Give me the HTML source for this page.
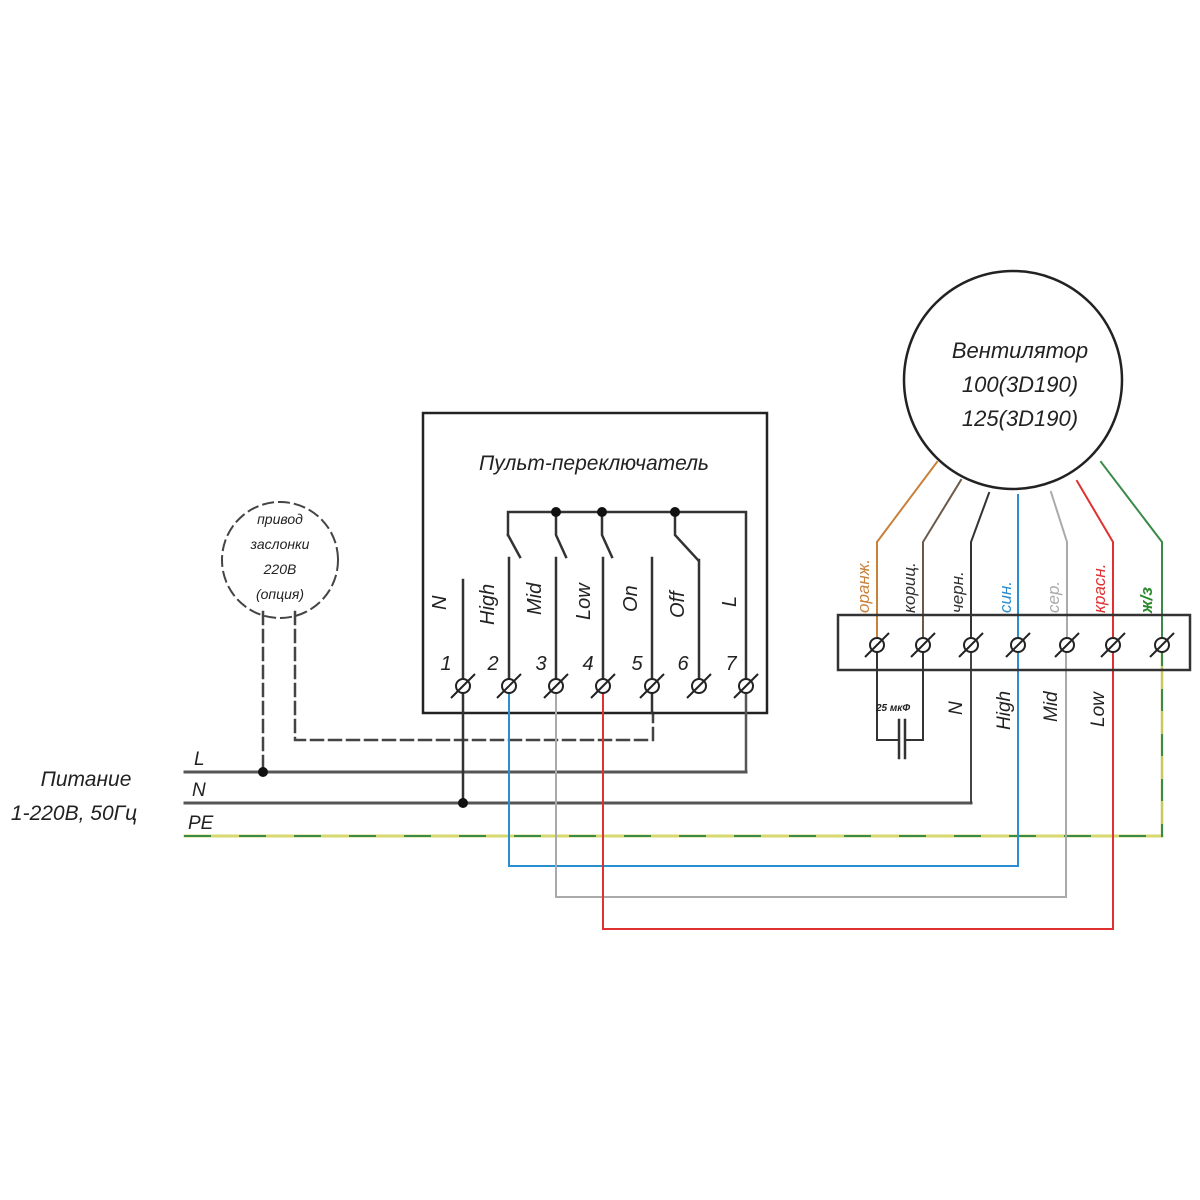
<!DOCTYPE html>
<html><head><meta charset="utf-8"><style>
html,body{margin:0;padding:0;background:#fff}
svg{display:block}
text{font-family:"Liberation Sans","DejaVu Sans",sans-serif;font-style:italic}
</style></head><body>
<svg width="1200" height="1200" viewBox="0 0 1200 1200" xmlns="http://www.w3.org/2000/svg">
<rect width="1200" height="1200" fill="#fff"/>
<g fill="none" stroke-linecap="square">
<line x1="185" y1="772" x2="746" y2="772" stroke="#555" stroke-width="3"/>
<line x1="185" y1="803" x2="971" y2="803" stroke="#555" stroke-width="3"/>
<line x1="185" y1="836" x2="1162" y2="836" stroke="#d8d870" stroke-width="3"/>
<line x1="185" y1="836" x2="1162" y2="836" stroke="#3a8a4a" stroke-width="2" stroke-dasharray="25 30"/>
<circle cx="280" cy="560" r="58" stroke="#444" stroke-width="2" stroke-dasharray="10 6"/>
<polyline points="263,612 263,772" stroke="#444" stroke-width="2.5" stroke-dasharray="12 6"/>
<polyline points="295,612 295,740 653,740 653,713" stroke="#444" stroke-width="2.5" stroke-dasharray="12 6"/>
<rect x="423" y="413" width="344" height="300" stroke="#222" stroke-width="2.5"/>
<polyline points="508,535 508,512 746,512 746,686" stroke="#333" stroke-width="2.5"/>
<line x1="508" y1="535" x2="520" y2="557" stroke="#333" stroke-width="2.5"/>
<polyline points="556,512 556,535 566,557" stroke="#333" stroke-width="2.5"/>
<polyline points="602,512 602,535 612,557" stroke="#333" stroke-width="2.5"/>
<polyline points="675,512 675,535 698,560" stroke="#333" stroke-width="2.5"/>
<line x1="463" y1="580" x2="463" y2="803" stroke="#333" stroke-width="2.5"/>
<line x1="509" y1="558" x2="509" y2="686" stroke="#333" stroke-width="2.5"/>
<line x1="556" y1="558" x2="556" y2="686" stroke="#333" stroke-width="2.5"/>
<line x1="603" y1="558" x2="603" y2="686" stroke="#333" stroke-width="2.5"/>
<line x1="652" y1="558" x2="652" y2="713" stroke="#333" stroke-width="2.5"/>
<line x1="699" y1="560" x2="699" y2="686" stroke="#333" stroke-width="2.5"/>
<line x1="746" y1="686" x2="746" y2="772" stroke="#555" stroke-width="2.5"/>
<polyline points="509,686 509,866 1018,866 1018,645" stroke="#2a8fd0" stroke-width="2"/>
<polyline points="556,686 556,897 1066,897 1066,645" stroke="#aaa" stroke-width="2"/>
<polyline points="603,686 603,929 1113,929 1113,645" stroke="#e03030" stroke-width="2"/>
<line x1="971" y1="645" x2="971" y2="803" stroke="#444" stroke-width="2"/>
<line x1="1162" y1="645" x2="1162" y2="836" stroke="#c8c860" stroke-width="2.5"/>
<line x1="1162" y1="645" x2="1162" y2="836" stroke="#3a8a4a" stroke-width="2" stroke-dasharray="20 25"/>
<circle cx="1013" cy="380" r="109" stroke="#222" stroke-width="2.5"/>
<polyline points="937,462 877,542 877,645" stroke="#c8803a" stroke-width="2"/>
<polyline points="961,480 923,542 923,645" stroke="#6b5a4a" stroke-width="2"/>
<polyline points="989,493 971,542 971,645" stroke="#333" stroke-width="2"/>
<polyline points="1018,495 1018,645" stroke="#2a8fd0" stroke-width="2"/>
<polyline points="1051,492 1067,542 1067,645" stroke="#aaa" stroke-width="2"/>
<polyline points="1077,481 1113,542 1113,645" stroke="#e03030" stroke-width="2"/>
<polyline points="1101,462 1162,542 1162,645" stroke="#3a8a4a" stroke-width="2"/>
<rect x="838" y="615" width="352" height="55" stroke="#333" stroke-width="2.5"/>
<polyline points="877,645 877,740 899,740" stroke="#333" stroke-width="2"/>
<polyline points="923,645 923,740 905,740" stroke="#333" stroke-width="2"/>
<line x1="899" y1="720" x2="899" y2="758" stroke="#333" stroke-width="2.5"/>
<line x1="905" y1="720" x2="905" y2="758" stroke="#333" stroke-width="2.5"/>
</g>
<g fill="#fff" stroke="#222" stroke-width="2">
<circle cx="463" cy="686" r="7"/><line x1="451" y1="698" x2="475" y2="674"/>
<circle cx="509" cy="686" r="7"/><line x1="497" y1="698" x2="521" y2="674"/>
<circle cx="556" cy="686" r="7"/><line x1="544" y1="698" x2="568" y2="674"/>
<circle cx="603" cy="686" r="7"/><line x1="591" y1="698" x2="615" y2="674"/>
<circle cx="652" cy="686" r="7"/><line x1="640" y1="698" x2="664" y2="674"/>
<circle cx="699" cy="686" r="7"/><line x1="687" y1="698" x2="711" y2="674"/>
<circle cx="746" cy="686" r="7"/><line x1="734" y1="698" x2="758" y2="674"/>
<circle cx="877" cy="645" r="7"/><line x1="865" y1="657" x2="889" y2="633"/>
<circle cx="923" cy="645" r="7"/><line x1="911" y1="657" x2="935" y2="633"/>
<circle cx="971" cy="645" r="7"/><line x1="959" y1="657" x2="983" y2="633"/>
<circle cx="1018" cy="645" r="7"/><line x1="1006" y1="657" x2="1030" y2="633"/>
<circle cx="1067" cy="645" r="7"/><line x1="1055" y1="657" x2="1079" y2="633"/>
<circle cx="1113" cy="645" r="7"/><line x1="1101" y1="657" x2="1125" y2="633"/>
<circle cx="1162" cy="645" r="7"/><line x1="1150" y1="657" x2="1174" y2="633"/>
</g>
<g fill="#111">
<circle cx="556" cy="512" r="5"/><circle cx="602" cy="512" r="5"/><circle cx="675" cy="512" r="5"/>
<circle cx="263" cy="772" r="5"/><circle cx="463" cy="803" r="5"/>
</g>
<g fill="#222">
<text x="594" y="470" font-size="21" text-anchor="middle">Пульт-переключатель</text>
<text x="1020" y="358" font-size="22" text-anchor="middle">Вентилятор</text>
<text x="1020" y="392" font-size="22" text-anchor="middle">100(3D190)</text>
<text x="1020" y="426" font-size="22" text-anchor="middle">125(3D190)</text>
<text x="280" y="524" font-size="14" text-anchor="middle">привод</text>
<text x="280" y="549" font-size="14" text-anchor="middle">заслонки</text>
<text x="280" y="574" font-size="14" text-anchor="middle">220В</text>
<text x="280" y="599" font-size="14" text-anchor="middle">(опция)</text>
<text x="86" y="786" font-size="21" text-anchor="middle">Питание</text>
<text x="74" y="820" font-size="21" text-anchor="middle">1-220В, 50Гц</text>
<text x="194" y="765" font-size="19">L</text>
<text x="192" y="796" font-size="19">N</text>
<text x="188" y="829" font-size="19">PE</text>
<g font-size="20" text-anchor="middle">
<text x="446" y="670">1</text><text x="493" y="670">2</text><text x="541" y="670">3</text>
<text x="588" y="670">4</text><text x="637" y="670">5</text><text x="683" y="670">6</text><text x="731" y="670">7</text>
</g>
<g font-size="20">
<text transform="translate(446,610) rotate(-90)">N</text>
<text transform="translate(494,625) rotate(-90)">High</text>
<text transform="translate(541,615) rotate(-90)">Mid</text>
<text transform="translate(590,620) rotate(-90)">Low</text>
<text transform="translate(637,612) rotate(-90)">On</text>
<text transform="translate(684,618) rotate(-90)">Off</text>
<text transform="translate(736,607) rotate(-90)">L</text>
</g>
<g font-size="17">
<text transform="translate(869,613) rotate(-90)" fill="#c8803a">оранж.</text>
<text transform="translate(915,613) rotate(-90)" fill="#333">кориц.</text>
<text transform="translate(963,613) rotate(-90)" fill="#333">черн.</text>
<text transform="translate(1011,613) rotate(-90)" fill="#2a8fd0">син.</text>
<text transform="translate(1059,613) rotate(-90)" fill="#aaa">сер.</text>
<text transform="translate(1105,613) rotate(-90)" fill="#e03030">красн.</text>
<text transform="translate(1152,613) rotate(-90)" fill="#2a8a2a" font-weight="bold">ж/з</text>
</g>
<g font-size="19">
<text transform="translate(962,715) rotate(-90)">N</text>
<text transform="translate(1010,730) rotate(-90)">High</text>
<text transform="translate(1057,722) rotate(-90)">Mid</text>
<text transform="translate(1104,727) rotate(-90)">Low</text>
</g>
<text x="876" y="711" font-size="10" font-weight="bold">25 мкФ</text>
</g>
</svg>
</body></html>
